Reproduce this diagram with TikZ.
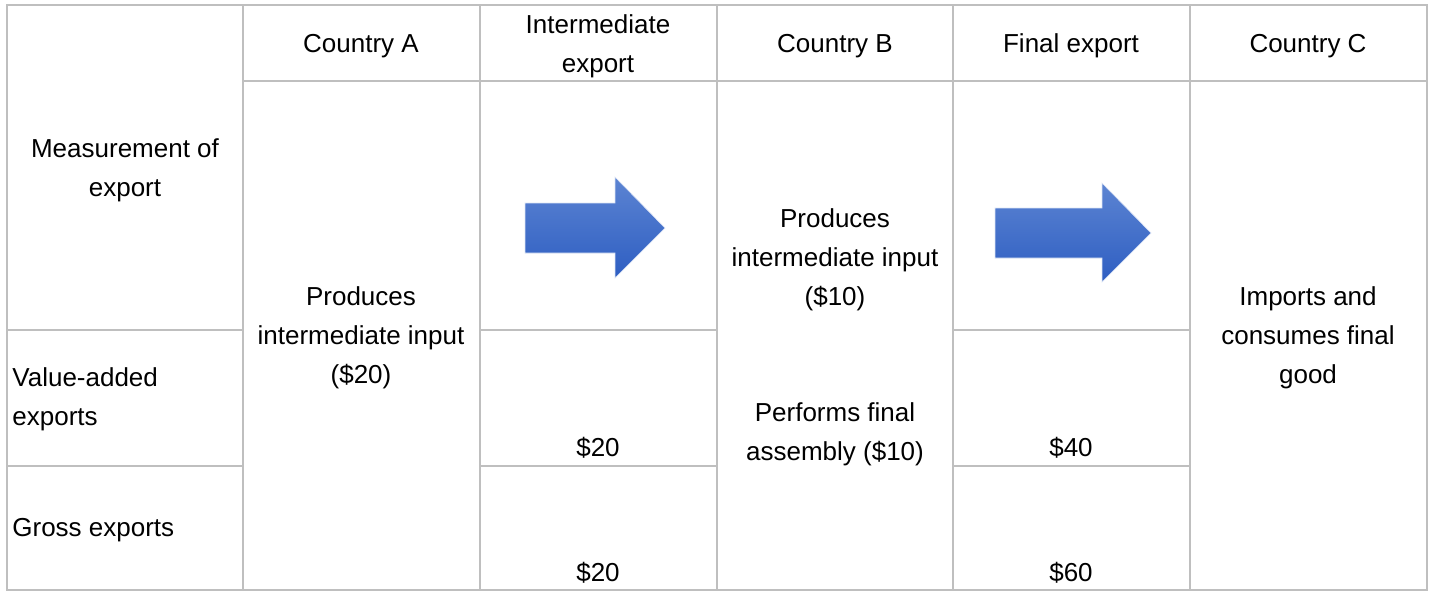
\documentclass[tikz,border=0pt]{standalone}
\usepackage{fontspec}
\setmainfont{Liberation Sans}
\begin{document}
\begin{tikzpicture}[x=0.5pt,y=-0.5pt,
  grid/.style={draw=black!25, line width=1pt},
  txt/.style={font=\fontsize{13}{19.5}\selectfont, align=center, inner sep=0pt, text=black},
  ltxt/.style={txt, align=left, anchor=west},
  bluearrow/.style={top color=blue!40!black!0!cyan!0!white!0!black!0!white, bottom color=white, draw=none}
]
\definecolor{arrowtop}{RGB}{92,132,210}
\definecolor{arrowbot}{RGB}{46,94,194}
\definecolor{gridgray}{RGB}{191,191,191}
\tikzset{grid/.style={draw=gridgray, line width=1pt},
  bluearrow/.style={top color=arrowtop, bottom color=arrowbot, draw=white!80!arrowtop, line width=0.3pt}}
\useasboundingbox (0,0) rectangle (1433,591);
\fill[white] (0,0) rectangle (1433,591);
% grid
\draw[grid] (7,5) rectangle (1427,590);
\foreach \x in {243,480,717,953,1190} \draw[grid] (\x,5) -- (\x,590);
\draw[grid] (243,81) -- (1427,81);
\foreach \y in {330,466} {
  \draw[grid] (7,\y) -- (243,\y);
  \draw[grid] (480,\y) -- (717,\y);
  \draw[grid] (953,\y) -- (1190,\y);
}
% arrows
\path[bluearrow] (525,203) -- (615,203) -- (615,177) -- (665,228) -- (615,278) -- (615,253) -- (525,253) -- cycle;
\path[bluearrow] (995,208) -- (1102,208) -- (1102,183) -- (1151,233) -- (1102,282) -- (1102,258) -- (995,258) -- cycle;
% header
\node[txt] (hA) at (361,46) {Country A};
\node[txt] (hIE) at (598,46) {Intermediate\\export};
\node[txt] (hB) at (835,46) {Country B};
\node[txt] (hF) at (1071,46) {Final export};
\node[txt] (hC) at (1308,46) {Country C};
% row labels
\node[txt] (meas) at (125,170) {Measurement of\\export};
\node[ltxt] (va) at (12,399) {Value-added\\exports};
\node[ltxt] (gross) at (12,530) {Gross exports};
% body
\node[txt] (pA) at (361,338) {Produces\\intermediate input\\(\$20)};
\node[txt] (pB) at (835,260) {Produces\\intermediate input\\(\$10)};
\node[txt] (fB) at (835,434) {Performs final\\assembly (\$10)};
\node[txt] (cC) at (1308,338) {Imports and\\consumes final\\good};
\node[txt] (v1) at (598,448) {\$20};
\node[txt] (v2) at (1071,448) {\$40};
\node[txt] (g1) at (598,573) {\$20};
\node[txt] (g2) at (1071,573) {\$60};
\end{tikzpicture}
\end{document}
